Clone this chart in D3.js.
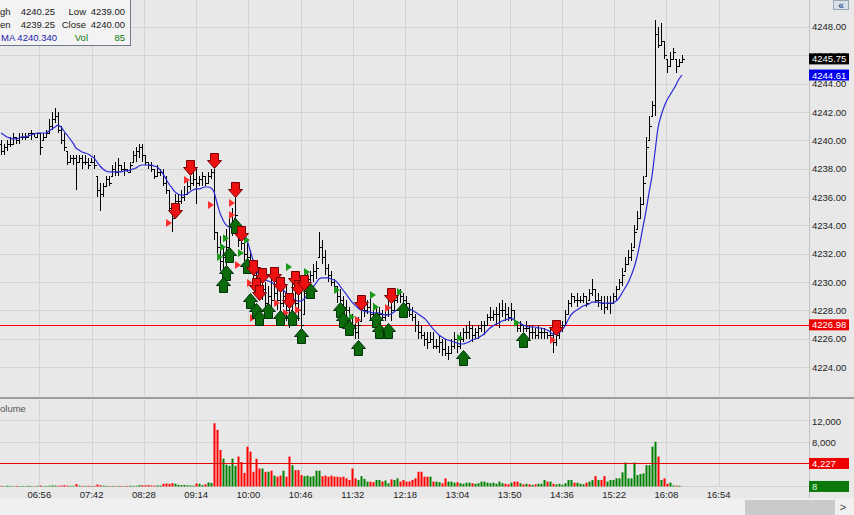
<!DOCTYPE html>
<html><head><meta charset="utf-8">
<script src="https://cdn.jsdelivr.net/npm/d3@7"></script>
<style>
html,body{margin:0;padding:0;background:#e8e8e8;overflow:hidden}
svg{display:block;font-family:"Liberation Sans",Arial,sans-serif}
</style></head><body>
<svg id="c" width="854" height="515"></svg>
<script>
// ---- data ----
const high = [
4240,4239.75,4240,4240.25,4240.5,4240.25,4240.5,4240.5,4240.5,4240.5,
4240.75,4240.5,4240.5,4240.5,4240.5,4240.75,4241.5,4242,4242.25,4242,
4241,4240.5,4239.25,4239,4239,4239,4239,4239,4239,4238.75,
4238.75,4239,4237.5,4237,4237,4237.5,4237.5,4238.25,4238.5,4238.75,
4238.25,4238.5,4238,4238.5,4239.25,4239.5,4239.75,4239.75,4239,4238.5,
4238.5,4238,4238.25,4238,4238,4237.5,4236.5,4235.5,4236.25,4236.25,
4236.5,4236.75,4237.25,4237.5,4237.75,4238,4237.5,4237.75,4237.5,4237.75,
4238,4238,4233.5,4233.25,4232.5,4233.75,4234.75,4235.25,4236.25,4234.25,
4233.75,4233,4232.75,4232.25,4231.5,4231.25,4230.75,4230.25,4230,4229.75,
4230.25,4230,4229.75,4229.5,4229.75,4229.75,4229.25,4230.75,4230.25,4230,
4229.5,4230,4230.75,4230.75,4231.25,4231.5,4233.5,4233,4232.25,4231.25,
4230.75,4230.25,4229.75,4229.5,4229,4228.75,4228.25,4227.75,4227.5,4227.5,
4228.75,4228.5,4228.75,4229,4228.5,4228.25,4228.25,4228,4228.25,4228.75,
4228.5,4229,4229.5,4229.5,4229.25,4229,4228.5,4228.25,4227.75,4227.25,
4227,4226.5,4226.5,4226.5,4226.5,4226,4226.25,4226,4226,4225.5,
4226,4226.5,4226,4226.5,4226.75,4227,4227.25,4227,4226.75,4227,
4227.25,4227.25,4227.75,4228.25,4228,4228.25,4228.5,4228.75,4228.5,4228.25,
4228.5,4228,4227.25,4227.25,4227,4227.25,4227,4227,4226.75,4227,
4226.75,4226.75,4226.5,4226.75,4226.5,4226.5,4227,4227.25,4228,4228.75,
4229.25,4229,4229.25,4229,4229.25,4229,4229.5,4230.25,4229.5,4229.25,
4229,4229,4229,4229,4229.25,4229.75,4230.25,4231,4231.75,4232.25,
4232.75,4234,4235,4236,4237.5,4240.25,4241.75,4242.75,4248.5,4248,
4248.25,4247,4245.75,4246.25,4246.5,4245.75,4245.75,4246];

const low = [
4239,4239,4239.25,4239.5,4239.75,4239.75,4239.75,4240,4240,4240.25,
4240,4240.25,4240.25,4239,4240,4240.25,4240.5,4240.75,4241.25,4240.5,
4239.75,4239.25,4238.25,4238.5,4238.25,4236.5,4238.5,4238,4238.25,4238,
4238.5,4238,4236,4235,4236,4236.75,4236.75,4237.5,4237.5,4237.5,
4237.75,4237.5,4237.75,4237.75,4238.5,4238.5,4238.75,4238.5,4238.25,4238,
4237.75,4237.25,4237.5,4237.5,4236.75,4236.25,4235,4233.5,4235.25,4235.5,
4235.5,4235.75,4236.25,4236.5,4236.75,4235.5,4236.75,4236.75,4236.75,4237,
4237.25,4233,4232,4230.75,4230.75,4231,4232.5,4233.25,4234.5,4232.5,
4232.25,4231.5,4231.25,4231.25,4230.25,4229.75,4228.75,4228.75,4228,4228.25,
4227.75,4228.5,4228,4227.75,4228.25,4227.25,4226.75,4228,4227.25,4227.25,
4226,4227.75,4229.5,4229.75,4230,4230.25,4231.75,4231.25,4230.5,4230,
4229.75,4229.5,4228.5,4228.5,4227.75,4227.5,4227.25,4226.5,4226,4226,
4227.25,4227.5,4227.75,4227.25,4227,4227.25,4227.5,4227.25,4227.25,4227.5,
4227.25,4228,4228.5,4228.5,4228.25,4228,4227.5,4227.25,4226.5,4226,
4226,4225.5,4225.25,4225.75,4225.25,4225.25,4225,4224.75,4224.75,4224.5,
4225,4225.25,4225,4225.25,4225.75,4226,4226,4225.75,4226,4226,
4226.5,4226.25,4227,4227.25,4227.25,4227,4226.75,4227.5,4227.25,4227.25,
4227.25,4227,4226.5,4226.5,4226.5,4226.5,4226,4226,4226,4226,
4226,4226,4226,4225.75,4225,4225.5,4226,4226.5,4227,4227.75,
4228.25,4228.5,4228.25,4228.5,4228.5,4228.25,4228.75,4229,4228.5,4228.25,
4228,4227.75,4228,4227.75,4228.5,4228.75,4229.5,4229.75,4230.75,4231.25,
4231.5,4232.5,4233.75,4234.5,4235.5,4237.5,4240,4241.75,4241.75,4246.5,
4246.75,4245.75,4244.75,4245.25,4245.75,4244.75,4245.25,4245.5];

const close = [
4239.25,4239.5,4239.75,4239.75,4240.25,4240,4240.25,4240.25,4240.25,4240.5,
4240.5,4240.25,4240.5,4239.5,4240.25,4240.5,4241,4241.5,4241.75,4240.75,
4240,4239.5,4238.5,4238.75,4238.75,4238.5,4238.75,4238.5,4238.5,4238.25,
4238.5,4238.25,4236.5,4236.25,4236.75,4237.25,4237,4238,4237.75,4238.25,
4238,4238,4237.75,4238.25,4239,4239.25,4239.5,4239,4238.5,4238.25,
4238,4237.5,4237.75,4237.75,4237,4236.5,4235.25,4234.5,4235.75,4235.75,
4236,4236.25,4236.75,4237,4237.25,4237,4237.25,4237.5,4237,4237.5,
4237.75,4233.5,4232.5,4231.5,4231.75,4232.5,4234,4234,4234.75,4233,
4232.75,4232,4231.75,4231.5,4230.5,4230,4229.25,4229.5,4228.5,4229,
4228.75,4229.25,4228.75,4228.5,4229,4228,4227.5,4229.5,4228.5,4228,
4227,4229.25,4230.25,4230.5,4230.75,4231,4232.5,4231.75,4231,4230.5,
4230,4229.75,4229,4228.75,4228.25,4228,4227.5,4227,4226.5,4227,
4228,4228,4228.25,4227.75,4227.5,4227.75,4227.75,4227.5,4227.75,4228.25,
4228,4228.75,4229.25,4229,4228.75,4228.5,4227.75,4227.5,4227,4226.5,
4226.25,4226,4225.75,4226,4225.5,4225.5,4225.75,4225.25,4225,4225,
4225.5,4226,4225.5,4226,4226.5,4226.5,4226.75,4226.25,4226.5,4226.75,
4227,4227,4227.5,4227.5,4227.75,4227.75,4228,4228,4227.75,4227.5,
4228,4227.25,4226.75,4227,4226.75,4226.75,4226.5,4226.5,4226.25,4226.5,
4226.5,4226.5,4226.25,4226.25,4225.75,4226.25,4226.75,4227,4227.75,4228.5,
4229,4228.75,4228.75,4228.75,4229,4228.5,4229.25,4229.5,4228.75,4228.75,
4228.5,4228.25,4228.5,4228.5,4229,4229.5,4230,4230.5,4231.25,4231.75,
4232.25,4233.5,4234.5,4235.5,4237,4239.5,4241,4242.5,4247.5,4246.75,
4247,4246,4245.25,4245.75,4246.25,4245.25,4245.5,4245.75];

const maValues = [
4240.52,4240.38,4240.24,4240.17,4240.10,4240.10,4240.17,4240.24,4240.24,4240.31,
4240.38,4240.45,4240.52,4240.52,4240.52,4240.52,4240.66,4240.80,4240.94,4241.08,
4240.94,4240.66,4240.38,4240.10,4239.81,4239.46,4239.32,4239.18,4239.11,4239.04,
4238.90,4238.76,4238.47,4238.19,4237.98,4237.84,4237.77,4237.77,4237.77,4237.77,
4237.77,4237.84,4237.84,4237.91,4237.98,4238.05,4238.19,4238.26,4238.26,4238.26,
4238.26,4238.19,4238.12,4237.91,4237.63,4237.27,4236.92,4236.64,4236.36,4236.21,
4236.14,4236.14,4236.21,4236.36,4236.50,4236.57,4236.57,4236.64,4236.71,4236.71,
4236.64,4236.36,4235.58,4234.87,4234.38,4234.03,4233.89,4233.82,4233.82,4233.82,
4233.67,4233.39,4232.97,4232.26,4231.56,4230.92,4230.50,4230.29,4230.15,4230.08,
4230.00,4229.86,4229.72,4229.58,4229.44,4229.23,4229.02,4228.87,4228.73,4228.66,
4228.66,4228.80,4229.02,4229.30,4229.65,4229.93,4230.22,4230.29,4230.29,4230.29,
4230.22,4230.15,4230.00,4229.72,4229.44,4229.16,4228.87,4228.59,4228.38,4228.17,
4228.03,4227.96,4227.89,4227.89,4227.82,4227.82,4227.82,4227.75,4227.68,4227.68,
4227.75,4227.89,4228.03,4228.10,4228.17,4228.17,4228.10,4228.03,4227.89,4227.75,
4227.60,4227.46,4227.25,4226.97,4226.69,4226.48,4226.26,4226.12,4225.98,4225.91,
4225.84,4225.77,4225.70,4225.63,4225.63,4225.70,4225.77,4225.91,4225.98,4226.05,
4226.19,4226.33,4226.55,4226.76,4226.90,4227.04,4227.11,4227.25,4227.32,4227.39,
4227.46,4227.32,4227.18,4227.11,4226.97,4226.90,4226.83,4226.83,4226.83,4226.76,
4226.76,4226.69,4226.62,4226.48,4226.33,4226.33,4226.41,4226.62,4226.90,4227.32,
4227.68,4227.89,4228.03,4228.17,4228.31,4228.38,4228.45,4228.59,4228.59,4228.59,
4228.52,4228.52,4228.52,4228.52,4228.52,4228.66,4228.87,4229.23,4229.58,4229.93,
4230.43,4230.99,4231.77,4232.76,4233.89,4235.01,4236.29,4237.48,4239.18,4240.87,
4241.72,4242.35,4242.85,4243.20,4243.55,4243.91,4244.33,4244.61];

const volume = [
120,80,150,100,60,130,90,110,70,140,
100,60,120,180,90,110,150,200,160,130,
180,220,150,120,140,450,160,120,100,140,
90,110,350,200,150,120,90,110,80,130,
100,90,120,150,110,130,250,230,200,260,
180,150,200,180,500,550,480,600,520,300,
250,280,220,200,150,550,500,250,400,750,
650,11600,10400,6700,5100,4000,3800,5100,3800,5500,
4500,2500,7300,6400,2700,5100,3300,3300,2700,2700,
2900,2000,1800,2000,2900,1800,5500,3900,3000,3000,
2100,1900,2000,1800,1900,2900,2900,1900,2000,1800,
2000,1800,1800,1700,1800,1500,1200,3300,1500,1200,
1900,1400,900,900,800,1200,1200,900,1100,600,
1300,1200,1500,900,1200,900,900,1200,1500,2700,
2700,1800,1800,1800,900,900,800,600,1500,900,
900,700,800,600,500,700,700,600,500,600,
900,900,700,600,700,500,900,600,500,400,
700,900,900,600,400,500,400,300,400,500,
500,1200,900,900,500,400,500,300,600,1200,
1200,700,700,500,400,700,900,1200,1900,1200,
1200,1900,900,1200,1200,1500,1500,2600,4400,1500,
1500,4400,2100,2300,2400,3900,3900,7300,8200,5500,
1200,1500,500,700,200,150,150,8];

const timeTicks = ["06:56","07:42","08:28","09:14","10:00","10:46","11:32","12:18","13:04","13:50","14:36","15:22","16:08","16:54"];
const priceTicks = [4224,4226,4228,4230,4232,4234,4236,4238,4240,4242,4244,4246,4248];
const volTicks = [8000,12000];
const refLine = 4226.98;
const volRefLine = 4227;
const lastClose = 4245.75;
const lastMA = 4244.61;
const lastVol = 8;

// trade markers: [bar index, price]
const sellArrows = [[58,4235.58],[63,4238.61],[71,4239.11],[78,4237.06],[80,4233.96],[84,4231.56],[87,4231.0],[85,4230.29],[91,4231.07],[86,4229.79],[93,4230.36],[96,4229.23],[98,4230.78],[99,4230.15],[101,4230.5],[120,4229.09],[130,4229.58],[185,4227.32]];
const buyArrows = [[78,4234.52],[76,4232.47],[75,4231.2],[74,4230.36],[82,4231.7],[83,4229.23],[85,4228.52],[86,4228.03],[89,4228.52],[93,4228.03],[97,4228.03],[100,4226.76],[103,4229.93],[113,4228.59],[114,4227.89],[116,4227.32],[119,4225.91],[125,4227.89],[126,4227.11],[129,4227.11],[134,4228.59],[154,4225.2],[174,4226.48]];
const sellTris = [[56,4234.17],[62,4237.2],[70,4235.44],[77,4235.58],[77,4234.73],[79,4231.2],[83,4229.93],[92,4228.52],[95,4227.82],[99,4228.03],[84,4227.46],[119,4227.32],[129,4228.17],[184,4225.91]];
const buyTris = [[75,4233.1],[74,4232.47],[73,4231.77],[80,4232.05],[82,4232.97],[96,4231.06],[102,4230.71],[112,4229.44],[117,4227.53],[124,4229.09],[125,4228.24],[133,4229.3],[153,4226.05],[172,4227.11]];

// ---- layout ----
const W = 854, H = 515, R = 809;
const N = close.length;
const open = close.map((c,i)=> i===0 ? 4239.75 : Math.max(low[i], Math.min(high[i], close[i-1])));
const x = d3.scaleLinear().domain([0, N-1]).range([1, 682]);
const toMin = s => { const [h,m] = s.split(":").map(Number); return h*60+m; };
const xTime = d3.scaleLinear().domain([toMin("06:56"), toMin("16:54")]).range([39.3, 718.7]);
const yP = d3.scaleLinear().domain([4221.96, 4249.905]).range([396, 0]);
const yV = d3.scaleLinear().domain([0, 15870]).range([486.5, 400]);
const fP = d3.format(".2f"), fV = d3.format(",");

const svg = d3.select("#c");
const defs = svg.append("defs");
defs.append("clipPath").attr("id","cp").append("rect").attr("x",0).attr("y",0).attr("width",R).attr("height",396);
defs.append("clipPath").attr("id","cv").append("rect").attr("x",0).attr("y",400).attr("width",R).attr("height",87);

svg.append("rect").attr("width",W).attr("height",H).attr("fill","#e8e8e8");

// grid
const grid = svg.append("g").attr("fill","#d3d3d3");
grid.selectAll(".hp").data(priceTicks).join("rect")
  .attr("x",0).attr("width",R).attr("y",d=>Math.round(yP(d))).attr("height",1);
grid.selectAll(".vt").data(timeTicks).join("rect")
  .attr("x",d=>Math.round(xTime(toMin(d)))).attr("width",1).attr("y",0).attr("height",396);
grid.selectAll(".vv").data(timeTicks).join("rect")
  .attr("x",d=>Math.round(xTime(toMin(d)))).attr("width",1).attr("y",400).attr("height",86);
grid.selectAll(".hv").data(volTicks.concat([0])).join("rect")
  .attr("x",0).attr("width",R).attr("y",d=>Math.round(yV(d))-1).attr("height",1);

// separators
svg.append("rect").attr("x",0).attr("y",397).attr("width",W).attr("height",2).attr("fill","#9c9c9c");
svg.append("rect").attr("x",R).attr("y",0).attr("width",1).attr("height",498).attr("fill","#c2c2c2");

// price panel
const pp = svg.append("g").attr("clip-path","url(#cp)");
pp.append("rect").attr("x",0).attr("width",R).attr("y",Math.round(yP(refLine))).attr("height",1).attr("fill","#ff0000");

const barPath = d3.range(N).map(i=>{
  const xi = Math.round(x(i))+0.5;
  return `M${xi},${yP(high[i])}V${yP(low[i])}M${xi-2},${Math.round(yP(open[i]))+0.5}H${xi}M${xi},${Math.round(yP(close[i]))+0.5}H${xi+2}`;
}).join("");
pp.append("path").attr("d",barPath).attr("stroke","#000").attr("stroke-width",1).attr("fill","none").attr("shape-rendering","crispEdges");

pp.append("path").datum(maValues)
  .attr("d", d3.line().x((d,i)=>x(i)).y(d=>yP(d)).curve(d3.curveMonotoneX))
  .attr("fill","none").attr("stroke","#2a2ad8").attr("stroke-width",1.2);

// triangles
pp.selectAll(".st").data(sellTris).join("path")
  .attr("d",d=>{const cx=x(d[0]), cy=yP(d[1]); return `M${cx-3},${cy-4}L${cx+3},${cy}L${cx-3},${cy+4}Z`;})
  .attr("fill","#ff3030");
pp.selectAll(".bt").data(buyTris).join("path")
  .attr("d",d=>{const cx=x(d[0]), cy=yP(d[1]); return `M${cx-3},${cy-4}L${cx+3},${cy}L${cx-3},${cy+4}Z`;})
  .attr("fill","#1a9a1a");

// arrows
pp.selectAll(".ba").data(buyArrows).join("path")
  .attr("d",d=>{const cx=Math.round(x(d[0]))+0.5, t=Math.round(yP(d[1]))+0.5;
    return `M${cx},${t}L${cx+7},${t+8}L${cx+4},${t+8}L${cx+4},${t+15}L${cx-4},${t+15}L${cx-4},${t+8}L${cx-7},${t+8}Z`;})
  .attr("fill","#0b6b0b").attr("stroke","#02320a").attr("stroke-width",1);
pp.selectAll(".sa").data(sellArrows).join("path")
  .attr("d",d=>{const cx=Math.round(x(d[0]))+0.5, t=Math.round(yP(d[1]))+0.5;
    return `M${cx-4},${t}L${cx+4},${t}L${cx+4},${t+7}L${cx+7},${t+7}L${cx},${t+15}L${cx-7},${t+7}L${cx-4},${t+7}Z`;})
  .attr("fill","#ee1111").attr("stroke","#7a0000").attr("stroke-width",1);

// volume panel
const vp = svg.append("g").attr("clip-path","url(#cv)");
vp.selectAll(".vb").data(volume).join("rect")
  .attr("x",(d,i)=>Math.round(x(i))-0.5).attr("width",2)
  .attr("y",d=>yV(d)).attr("height",d=>yV(0)-yV(d))
  .attr("fill",(d,i)=> close[i]>=open[i] ? "#008000" : "#ff0000");
vp.append("rect").attr("x",0).attr("width",R).attr("y",Math.round(yV(volRefLine))).attr("height",1).attr("fill","#e00000");
svg.append("text").attr("x",0).attr("y",412).attr("font-size",9.5).attr("fill","#555").text("olume");

// axis labels
const ax = svg.append("g").attr("font-size",9.5).attr("fill","#1e1e1e");
ax.selectAll(".pl").data(priceTicks).join("text").attr("x",812).attr("y",d=>yP(d)+3.5).text(d=>fP(d));
ax.selectAll(".vl").data(volTicks).join("text").attr("x",812).attr("y",d=>yV(d)+3.5).text(d=>fV(d));
ax.selectAll(".tl").data(timeTicks).join("text").attr("x",d=>xTime(toMin(d))).attr("y",498).attr("text-anchor","middle").text(d=>d);

function tag(yc, fill, txt, tc){
  svg.append("rect").attr("x",809).attr("y",yc-5.5).attr("width",40).attr("height",11).attr("fill",fill);
  svg.append("text").attr("x",812).attr("y",yc+3.5).attr("font-size",9.5).attr("fill",tc||"#fff").text(txt);
}
tag(yP(lastClose),"#000",fP(lastClose));
tag(yP(lastMA),"#0000ee",fP(lastMA));
tag(yP(refLine),"#ee0000",fP(refLine));
tag(yV(volRefLine),"#ee0000",fV(volRefLine));
tag(yV(lastVol),"#0a7a0a",fV(lastVol),"#d8ffd8");

// top-right icon
svg.append("rect").attr("x",833.5).attr("y",0.5).attr("width",15).attr("height",9).attr("fill","#d9e0ea").attr("stroke","#9aa6b6");
svg.append("text").attr("x",841).attr("y",8.5).attr("text-anchor","middle").attr("font-size",10).attr("font-weight","bold").attr("fill","#33558f").text("«");

// bottom scroll bar
svg.append("rect").attr("x",0).attr("y",498.5).attr("width",W).attr("height",17).attr("fill","#f0f0f0");
svg.append("rect").attr("x",745).attr("y",500).attr("width",90).attr("height",15).attr("fill","#cacaca");
svg.append("text").attr("x",843).attr("y",511).attr("text-anchor","middle").attr("font-size",11).attr("fill","#444").text(">");

// info box
const ib = svg.append("g");
ib.append("rect").attr("x",-2).attr("y",-2).attr("width",132.5).attr("height",47.5).attr("fill","#f3f3f3").attr("stroke","#6f7b8a");
const rows = [
  [["gh",0,"start","#222"],["4240.25",55,"end","#222"],["Low",86,"end","#222"],["4239.00",125,"end","#222"]],
  [["en",0,"start","#222"],["4239.25",55,"end","#222"],["Close",86,"end","#222"],["4240.00",125,"end","#222"]],
  [["MA 4240.340",1,"start","#1c1caa"],["Vol",88,"end","#117711"],["85",125,"end","#117711"]]
];
rows.forEach((r,ri)=>{
  r.forEach(c=>{
    ib.append("text").attr("x",c[1]).attr("y",14.5+ri*13).attr("text-anchor",c[2]).attr("font-size",9.5).attr("fill",c[3]).text(c[0]);
  });
});
</script>
</body></html>
